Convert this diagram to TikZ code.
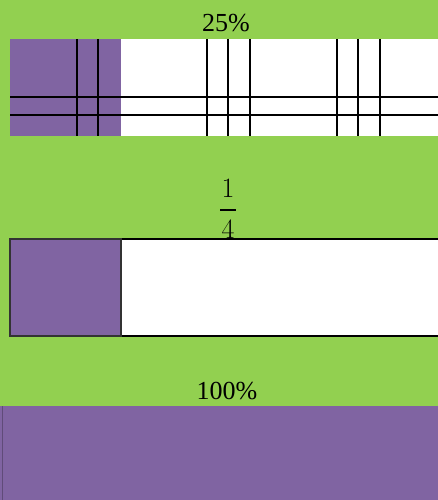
\documentclass[tikz,border=0pt]{standalone}
\usepackage{fontspec}
\setmainfont{Liberation Serif}
\newfontfamily\fracfont{Latin Modern Roman}
\usepackage{tikz}
\usetikzlibrary{positioning}
\definecolor{BackGreen}{RGB}{146,208,80}
\definecolor{PartPurple}{RGB}{128,100,162}

\begin{document}
\begin{tikzpicture}[x=1pt,y=-1pt,
  bar/.style={inner sep=0pt,outer sep=0pt,anchor=north west,fill=white,minimum height=97pt},
  part/.style={inner sep=0pt,outer sep=0pt,anchor=north west,fill=PartPurple,minimum width=111pt,minimum height=97pt},
  caption/.style={font=\fontsize{26}{28}\selectfont,inner sep=0pt},
  digit/.style={font=\fracfont\fontsize{28}{30}\selectfont,inner sep=0pt,anchor=base}]
  \clip (0,0) rectangle (438,500);
  \fill[BackGreen] (0,0) rectangle (438,500);
  % 25%
  \node[caption] (pct) at (226,23) {25\%};
  \node[bar,minimum width=440pt] (gridbar) at (10,39) {};
  \node[part] (gridpart) at (10,39) {};
  \foreach \y in {97,115}
    \draw[line width=1.2pt] (10,\y) -- (438,\y);
  \foreach \x in {77,98,207,228,250,337,358,380}
    \draw[line width=1.2pt] (\x,39) -- (\x,136);
  % 1/4
  \node[bar,minimum width=440pt,draw=black,line width=1.1pt] (fracbar) at (10,239) {};
  \node[part,draw=black!80,line width=1.1pt] (fracpart) at (10,239) {};
  \node[digit] (num) at (228,197) {1};
  \node[digit] (den) at (228,238.5) {4};
  \draw[line width=1.8pt] ([xshift=-8pt]num.south |- 0,210) -- ([xshift=8pt]num.south |- 0,210);
  % 100%
  \node[caption] (whole) at (227,391) {100\%};
  \node[part,minimum width=440pt,minimum height=95pt] (wholepart) at (0,406) {};
  \draw[PartPurple!75!black,line width=0.8pt] ([xshift=2.5pt]wholepart.north west) -- ([xshift=2.5pt]wholepart.south west);
\end{tikzpicture}
\end{document}
